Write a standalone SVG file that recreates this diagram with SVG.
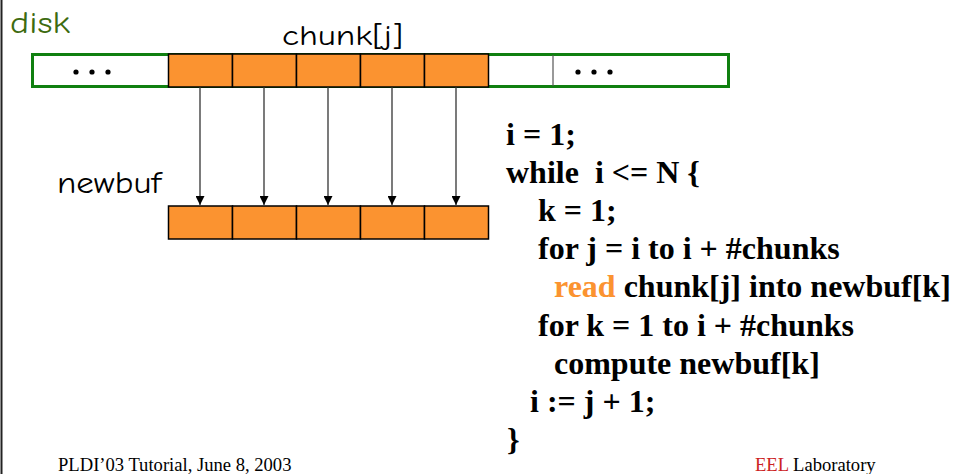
<svg xmlns="http://www.w3.org/2000/svg" width="956" height="474" viewBox="0 0 956 474">
<style>
.cell{fill:#fb9330;stroke:#000;stroke-width:1.5}
.hand{font-family:"Comic Neue","DejaVu Sans",sans-serif;font-size:28px;fill:#000}
.code{font-family:"Liberation Serif",serif;font-weight:bold;font-size:32px;fill:#000}
.foot{font-family:"Liberation Serif",serif;font-size:18.6px;fill:#000}
.dots{fill:#000}
.conn{stroke:#333;stroke-width:1.3;fill:none;marker-end:url(#ah)}
</style>
<defs>
<marker id="ah" viewBox="0 0 10 10" refX="10" refY="5" markerWidth="9" markerHeight="9" markerUnits="userSpaceOnUse" orient="auto">
<path d="M0,0 L10,5 L0,10 z" fill="#000"/>
</marker>
</defs>
<rect width="956" height="474" fill="#fff"/>
<line x1="1.5" y1="0" x2="1.5" y2="474" stroke="#222" stroke-width="2"/>
<text x="10" y="33" textLength="60" lengthAdjust="spacingAndGlyphs" style="font-family:'Comic Neue','DejaVu Sans',sans-serif;font-size:30px;fill:#3d6b10">disk</text>
<text x="282" y="45" class="hand" textLength="121" lengthAdjust="spacingAndGlyphs">chunk[j]</text>
<g id="disk">
<rect x="32.5" y="54.5" width="696" height="32" fill="#fff" stroke="#108010" stroke-width="3"/>
<line x1="553" y1="55" x2="553" y2="86" stroke="#555" stroke-width="1.2"/>
<circle cx="76" cy="72" r="2.6" class="dots"/><circle cx="92" cy="72" r="2.6" class="dots"/><circle cx="108" cy="72" r="2.6" class="dots"/>
<circle cx="578" cy="72" r="2.6" class="dots"/><circle cx="594" cy="72" r="2.6" class="dots"/><circle cx="610" cy="72" r="2.6" class="dots"/>
</g>
<g id="chunks">
<rect x="168.5" y="54" width="64" height="33" class="cell"/>
<rect x="232.5" y="54" width="64" height="33" class="cell"/>
<rect x="296.5" y="54" width="64" height="33" class="cell"/>
<rect x="360.5" y="54" width="64" height="33" class="cell"/>
<rect x="424.5" y="54" width="64" height="33" class="cell"/>
</g>
<text x="57" y="193" class="hand" style="font-size:31px" textLength="104" lengthAdjust="spacingAndGlyphs">newbuf</text>
<g id="newbuf">
<rect x="168.5" y="206" width="64" height="33" class="cell"/>
<rect x="232.5" y="206" width="64" height="33" class="cell"/>
<rect x="296.5" y="206" width="64" height="33" class="cell"/>
<rect x="360.5" y="206" width="64" height="33" class="cell"/>
<rect x="424.5" y="206" width="64" height="33" class="cell"/>
</g>
<g id="connectors">
<line x1="200" y1="87" x2="200" y2="205" class="conn"/>
<line x1="264" y1="87" x2="264" y2="205" class="conn"/>
<line x1="328" y1="87" x2="328" y2="205" class="conn"/>
<line x1="392" y1="87" x2="392" y2="205" class="conn"/>
<line x1="456" y1="87" x2="456" y2="205" class="conn"/>
</g>
<g id="code">
<text x="506" y="145" class="code">i = 1;</text>
<text x="506" y="183" class="code" xml:space="preserve">while  i &lt;= N {</text>
<text x="538" y="221" class="code">k = 1;</text>
<text x="538" y="259" class="code">for j = i to i + #chunks</text>
<text x="554" y="297" class="code"><tspan fill="#fb9330">read</tspan> chunk[j] into newbuf[k]</text>
<text x="538" y="336" class="code">for k = 1 to i + #chunks</text>
<text x="554" y="374" class="code">compute newbuf[k]</text>
<text x="530" y="412" class="code">i := j + 1;</text>
<text x="507" y="450" class="code">}</text>
</g>
<text x="58" y="471" class="foot">PLDI’03 Tutorial, June 8, 2003</text>
<text x="755" y="471" class="foot"><tspan fill="#cc2222">EEL</tspan> Laboratory</text>
</svg>
